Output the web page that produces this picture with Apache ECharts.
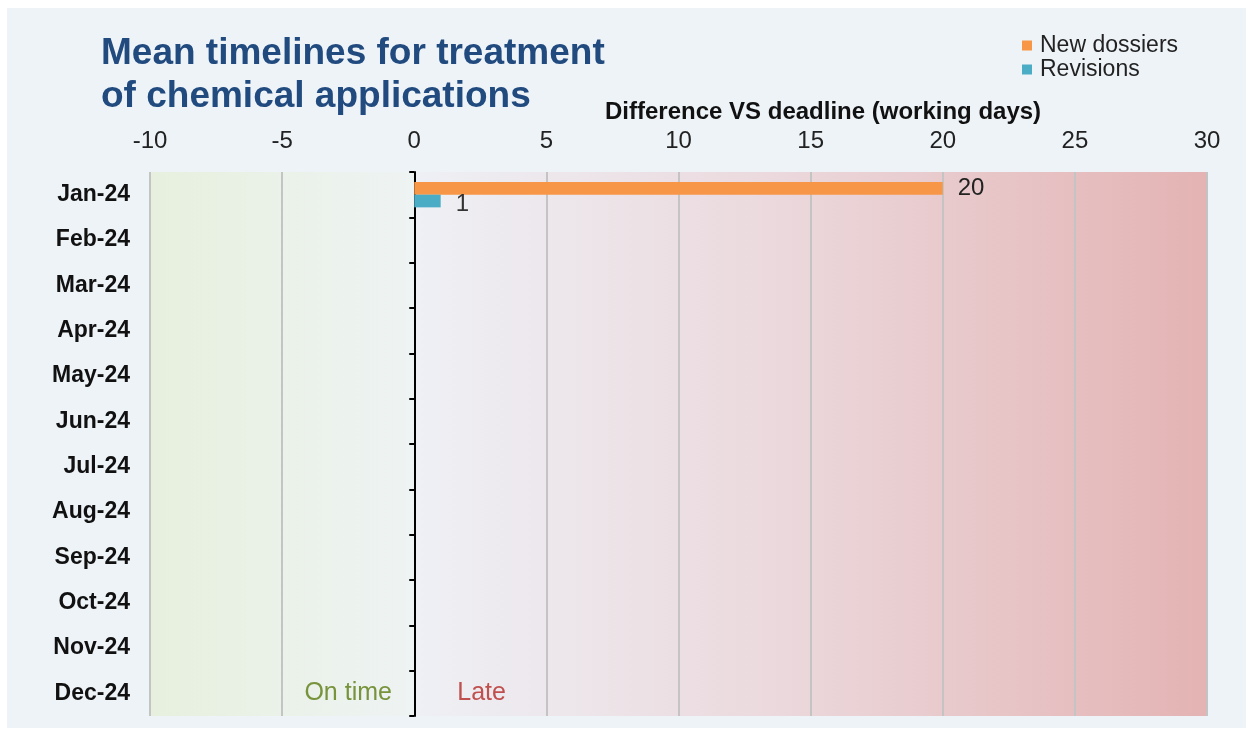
<!DOCTYPE html>
<html>
<head>
<meta charset="utf-8">
<script src="https://cdn.jsdelivr.net/npm/echarts@6/dist/echarts.min.js"></script>
<style>
html,body{margin:0;padding:0;background:#fff;}
#chart{width:1253px;height:731px;}
</style>
</head>
<body>
<div id="chart"></div>
<script>
const months = ['Jan-24','Feb-24','Mar-24','Apr-24','May-24','Jun-24','Jul-24','Aug-24','Sep-24','Oct-24','Nov-24','Dec-24'];
const newDossiers = [20, null, null, null, null, null, null, null, null, null, null, null];
const revisions = [1, null, null, null, null, null, null, null, null, null, null, null];
const seriesNames = ['New dossiers', 'Revisions'];
const titleText = 'Mean timelines for treatment\nof chemical applications';
const axisTitle = 'Difference VS deadline (working days)';
const zoneLabels = ['On time', 'Late'];

const FONT = '"Liberation Sans", Arial, sans-serif';
const chart = echarts.init(document.getElementById('chart'));

const option = {
  backgroundColor: '#ffffff',
  animation: false,
  textStyle: { fontFamily: FONT },
  title: {
    text: titleText,
    left: 96, top: 27,
    textStyle: { color: '#214a7f', fontSize: 37, fontWeight: 'bold', lineHeight: 43, fontFamily: FONT }
  },
  legend: {
    orient: 'vertical',
    left: 1017, top: 29,
    itemWidth: 10, itemHeight: 10, itemGap: 1,
    icon: 'rect',
    data: seriesNames,
    textStyle: { fontSize: 23, color: '#222', padding: [0,0,0,3], fontFamily: FONT }
  },
  grid: {
    left: 150, right: 46, top: 172, bottom: 15,
    show: true, borderWidth: 0,
    backgroundColor: {
      type: 'linear', x: 0, y: 0, x2: 1, y2: 0,
      colorStops: [
        { offset: 0, color: '#e7f0de' },
        { offset: 0.249, color: '#eef3f3' },
        { offset: 0.25, color: '#eef0f5' },
        { offset: 0.6, color: '#ebd8dc' },
        { offset: 1, color: '#e4b3b3' }
      ]
    }
  },
  xAxis: {
    type: 'value', position: 'top',
    min: -10, max: 30, interval: 5,
    axisLine: { show: false },
    axisTick: { show: false },
    axisLabel: { fontSize: 24, color: '#222', margin: 19, fontFamily: FONT },
    splitLine: { show: true, lineStyle: { color: '#c4c4c4', width: 2 } }
  },
  yAxis: [
    {
      type: 'category', inverse: true, data: months, position: 'left',
      axisLine: { show: false, onZero: false }, axisTick: { show: false },
      axisLabel: { fontSize: 23, fontWeight: 'bold', color: '#111', margin: 20, fontFamily: FONT },
      splitLine: { show: false }
    },
    {
      type: 'category', inverse: true, data: months, position: 'left',
      axisLine: { show: true, onZero: true, onZeroAxisIndex: 0, lineStyle: { color: '#000', width: 2 } },
      axisTick: { show: true, length: 5, lineStyle: { color: '#000', width: 2 } },
      axisLabel: { show: false },
      splitLine: { show: false }
    }
  ],
  series: [
    {
      name: seriesNames[0], type: 'bar', data: newDossiers,
      yAxisIndex: 0,
      barGap: '0%', barCategoryGap: '44%',
      itemStyle: { color: '#f79646' },
      label: { show: true, position: 'right', distance: 15, fontSize: 24, color: '#222', fontFamily: FONT }
    },
    {
      name: seriesNames[1], type: 'bar', data: revisions,
      yAxisIndex: 0,
      barGap: '0%', barCategoryGap: '44%',
      itemStyle: { color: '#4bacc6' },
      label: { show: true, position: 'right', distance: 15, fontSize: 24, color: '#333', offset: [0, 3], fontFamily: FONT }
    }
  ]
};
chart.setOption(option);

const pOn = chart.convertToPixel({ xAxisIndex: 0, yAxisIndex: 0 }, [-2.5, months[11]]);
const pLate = chart.convertToPixel({ xAxisIndex: 0, yAxisIndex: 0 }, [2.55, months[11]]);
chart.setOption({
  graphic: [
    { type: 'rect', shape: { x: 7, y: 8, width: 1239, height: 720 }, style: { fill: '#eef3f8' }, z: -100, silent: true },
    { type: 'text', x: 605, y: 112, style: { text: axisTitle, font: 'bold 24px ' + FONT, fill: '#111', textVerticalAlign: 'middle' }, z: 10 },
    { type: 'text', x: pOn[0], y: pOn[1], style: { text: zoneLabels[0], font: '25px ' + FONT, fill: '#77933c', textAlign: 'center', textVerticalAlign: 'middle' }, z: 10 },
    { type: 'text', x: pLate[0], y: pLate[1], style: { text: zoneLabels[1], font: '25px ' + FONT, fill: '#c0504d', textAlign: 'center', textVerticalAlign: 'middle' }, z: 10 }
  ]
});
</script>
</body>
</html>
